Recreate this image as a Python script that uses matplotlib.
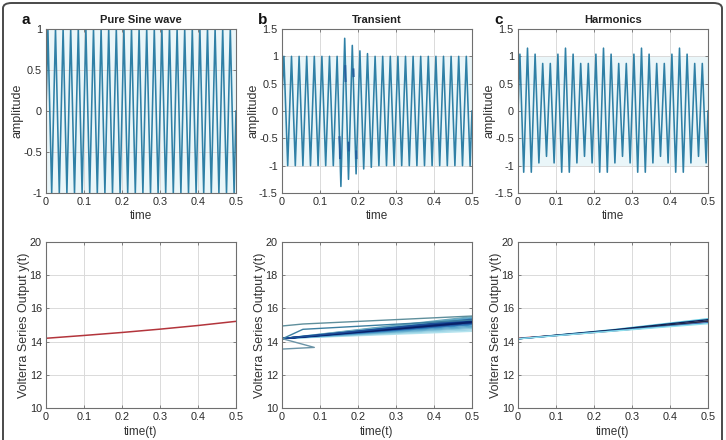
import numpy as np
import matplotlib
matplotlib.use("Agg")
import matplotlib.pyplot as plt
from matplotlib.patches import FancyBboxPatch

plt.rcParams['font.family'] = ['Liberation Sans', 'DejaVu Sans']

# ---------------- data ----------------
panel_letters = ["a", "b", "c"]
panel_titles = ["Pure Sine wave", "Transient", "Harmonics"]
top_ylabel = "amplitude"
top_xlabel = "time"
bottom_ylabel = "Volterra Series Output y(t)"
bottom_xlabel = "time(t)"
x_ticks = [0, 0.1, 0.2, 0.3, 0.4, 0.5]
x_ticklabels = ["0", "0.1", "0.2", "0.3", "0.4", "0.5"]
top_a_yticks = [-1, -0.5, 0, 0.5, 1]
top_a_yticklabels = ["-1", "-0.5", "0", "0.5", "1"]
top_bc_yticks = [-1.5, -1, -0.5, 0, 0.5, 1, 1.5]
top_bc_yticklabels = ["-1.5", "-1", "-0.5", "0", "0.5", "1", "1.5"]
bottom_yticks = [10, 12, 14, 16, 18, 20]

# extremum times of the sampled signals (s)
wave_t = [0.0,
          0.005, 0.015, 0.025, 0.035, 0.045, 0.055, 0.065, 0.075, 0.085, 0.095,
          0.105, 0.115, 0.125, 0.135, 0.145, 0.155, 0.165, 0.175, 0.185, 0.195,
          0.205, 0.215, 0.225, 0.235, 0.245, 0.255, 0.265, 0.275, 0.285, 0.295,
          0.305, 0.315, 0.325, 0.335, 0.345, 0.355, 0.365, 0.375, 0.385, 0.395,
          0.405, 0.415, 0.425, 0.435, 0.445, 0.455, 0.465, 0.475, 0.485, 0.495,
          0.5]

pure_sine = [0.0,
             1, -1, 1, -1, 1, -1, 1, -1, 1, -1,
             1, -1, 1, -1, 1, -1, 1, -1, 1, -1,
             1, -1, 1, -1, 1, -1, 1, -1, 1, -1,
             1, -1, 1, -1, 1, -1, 1, -1, 1, -1,
             1, -1, 1, -1, 1, -1, 1, -1, 1, -1,
             0.0]

transient = [0.3,
             1, -1, 1, -1, 1, -1, 1, -1, 1, -1,
             1, -1, 1, -1, 1, -1.38, 1.33, -1.25, 1.2, -1.15,
             1.1, -1.06, 1.05, -1.03, 1, -1, 1, -1, 1, -1,
             1, -1, 1, -1, 1, -1, 1, -1, 1, -1,
             1, -1, 1, -1, 1, -1, 1, -1, 1, -1,
             0.0]

# short high-frequency disturbance pieces inside the transient
transient_bursts_t = [[0.1512, 0.1520, 0.1527], [0.1662, 0.1668, 0.1673],
                      [0.1752, 0.1758], [0.1878, 0.1884], [0.1952, 0.1958]]
transient_bursts_v = [[-0.48, -0.62, -0.86], [0.82, 0.62, 0.55],
                      [-0.58, -0.72], [0.76, 0.64], [-0.74, -0.86]]

harmonics = [0.0,
             1.04, -1.12, 1.15, -1.12, 1.04, -0.95, 0.87, -0.83, 0.87, -0.95,
             1.04, -1.12, 1.15, -1.12, 1.04, -0.95, 0.87, -0.83, 0.87, -0.95,
             1.04, -1.12, 1.15, -1.12, 1.04, -0.95, 0.87, -0.83, 0.87, -0.95,
             1.04, -1.12, 1.15, -1.12, 1.04, -0.95, 0.87, -0.83, 0.87, -0.95,
             1.04, -1.12, 1.15, -1.12, 1.04, -0.95, 0.87, -0.83, 0.87, -0.95,
             0.0]

# Volterra series outputs
vt = [0, 0.1, 0.2, 0.3, 0.4, 0.5]
volterra_pure = [14.2, 14.37, 14.55, 14.75, 14.97, 15.22]

# transient: bundle of kernels (start 14.18 -> mid -> end value)
bundle_start = 14.18
bundle_mid = [14.40, 14.44, 14.48, 14.51, 14.55, 14.58, 14.61, 14.63, 14.66, 14.68,
              14.71, 14.73, 14.76, 14.79, 14.82, 14.85, 14.66, 14.70, 14.73, 14.75]
bundle_end = [14.62, 14.70, 14.78, 14.85, 14.92, 15.00, 15.05, 15.10, 15.15, 15.20,
              15.25, 15.30, 15.35, 15.40, 15.45, 15.50, 15.15, 15.22, 15.28, 15.32]
bundle_colors = ["#b5e4ef", "#9fd6e6", "#8ccbe0", "#6fb4d2", "#5aa6cc", "#3f8fc2",
                 "#2c74b4", "#1d55a0", "#12408f", "#0c2f7c", "#0a2a72", "#0d3a86",
                 "#1a4f98", "#3a86b8", "#5aa5c9", "#6aa9bf", "#0a1f66", "#08226b",
                 "#0e3585", "#1c4e98"]
# outlier kernels of the transient case
outlier1_t = [0, 0.055, 0.5]
outlier1_v = [14.94, 15.06, 15.54]
outlier2_t = [0, 0.055, 0.5]
outlier2_v = [14.16, 14.74, 15.30]
outlier3_t = [0, 0.085, 0]
outlier3_v = [14.18, 13.65, 13.55]

# harmonics: a few kernels
harm_start = 14.17
harm_mid = [14.72, 14.70, 14.67, 14.65, 14.63]
harm_end = [15.38, 15.32, 15.24, 15.14, 15.08]
harm_colors = ["#5ec8e0", "#0b1f5c", "#1c2a4a", "#2a6fb8", "#8fe0ee"]

# ---------------- figure ----------------
W, H = 726, 440
fig = plt.figure(figsize=(W / 100, H / 100), dpi=100)

def px_axes(left, right, top, bottom):
    return fig.add_axes([left / W, 1 - bottom / H, (right - left) / W, (bottom - top) / H])

lefts = [46, 282, 518]
rights = [236, 472, 708]

# rounded frame
frame = FancyBboxPatch((3 / W, -0.05), (W - 7) / W, 1.05 - 3 / H,
                       boxstyle="round,pad=0,rounding_size=0.012",
                       transform=fig.transFigure, fill=False,
                       edgecolor="#4a4a4a", linewidth=1.4, clip_on=False)
fig.patches.append(frame)

wave_color = "#2f80a6"
grid_color = "#dadada"
spine_color = "#6f6f6f"
tick_color = "#2b2b2b"

def style(ax, yticks, yticklabels, ylim):
    ax.set_xlim(0, 0.5)
    ax.set_ylim(*ylim)
    ax.set_xticks(x_ticks)
    ax.set_xticklabels(x_ticklabels)
    ax.set_yticks(yticks)
    ax.set_yticklabels(yticklabels)
    ax.grid(True, color=grid_color, linewidth=0.7)
    ax.set_axisbelow(True)
    ax.tick_params(direction="in", length=2.5, width=0.6, colors=spine_color,
                   labelcolor=tick_color, labelsize=7.8, top=True, right=True, pad=3)
    for s in ax.spines.values():
        s.set_color(spine_color)
        s.set_linewidth(0.8)

top_series = [pure_sine, transient, harmonics]
for i in range(3):
    ax = px_axes(lefts[i], rights[i], 29, 193)
    ax.axhspan(-1, 1, color="#eaf6f9", zorder=0.5, linewidth=0)
    ax.plot(wave_t, top_series[i], color=wave_color, linewidth=1.15, zorder=2)
    if i == 1:
        for bt, bv in zip(transient_bursts_t, transient_bursts_v):
            ax.plot(bt, bv, color="#24609e", linewidth=1.5, zorder=3)
    if i == 0:
        style(ax, top_a_yticks, top_a_yticklabels, (-1, 1))
    else:
        style(ax, top_bc_yticks, top_bc_yticklabels, (-1.5, 1.5))
    ax.set_title(panel_titles[i], fontsize=8, fontweight="bold", pad=4, color="#222222")
    ax.set_ylabel(top_ylabel, fontsize=9, color="#333333")
    ax.yaxis.set_label_coords(-0.12, 0.5)
    ax.set_xlabel(top_xlabel, fontsize=8.5, labelpad=2, color="#333333")
    fig.text((lefts[i] - 24) / W, 1 - 20 / H, panel_letters[i], fontsize=11,
             fontweight="bold", ha="left", va="center", color="#111111")

for i in range(3):
    ax = px_axes(lefts[i], rights[i], 242, 408)
    if i == 0:
        ax.plot(vt, volterra_pure, color="#b3353c", linewidth=1.1)
    elif i == 1:
        ax.plot(vt, volterra_pure, color="#d0607a", linewidth=1.0, zorder=1)
        for k in range(len(bundle_end)):
            ax.plot([0, 0.25, 0.5], [bundle_start, bundle_mid[k], bundle_end[k]],
                    color=bundle_colors[k], linewidth=1.0)
        ax.plot(outlier1_t, outlier1_v, color="#5f8f9c", linewidth=1.0)
        ax.plot(outlier2_t, outlier2_v, color="#3c7fa0", linewidth=1.0)
        ax.plot(outlier3_t, outlier3_v, color="#6a93a6", linewidth=1.0)
    else:
        ax.plot(vt, volterra_pure, color="#c0303a", linewidth=1.1, zorder=1)
        for k in range(len(harm_end)):
            ax.plot([0, 0.25, 0.5], [harm_start, harm_mid[k], harm_end[k]],
                    color=harm_colors[k], linewidth=1.0)
    style(ax, bottom_yticks, [str(v) for v in bottom_yticks], (10, 20))
    ax.set_ylabel(bottom_ylabel, fontsize=9, color="#333333")
    ax.yaxis.set_label_coords(-0.085, 0.5)
    ax.set_xlabel(bottom_xlabel, fontsize=8.5, labelpad=3, color="#333333")

fig.savefig("out.png", dpi=100, facecolor="white")
